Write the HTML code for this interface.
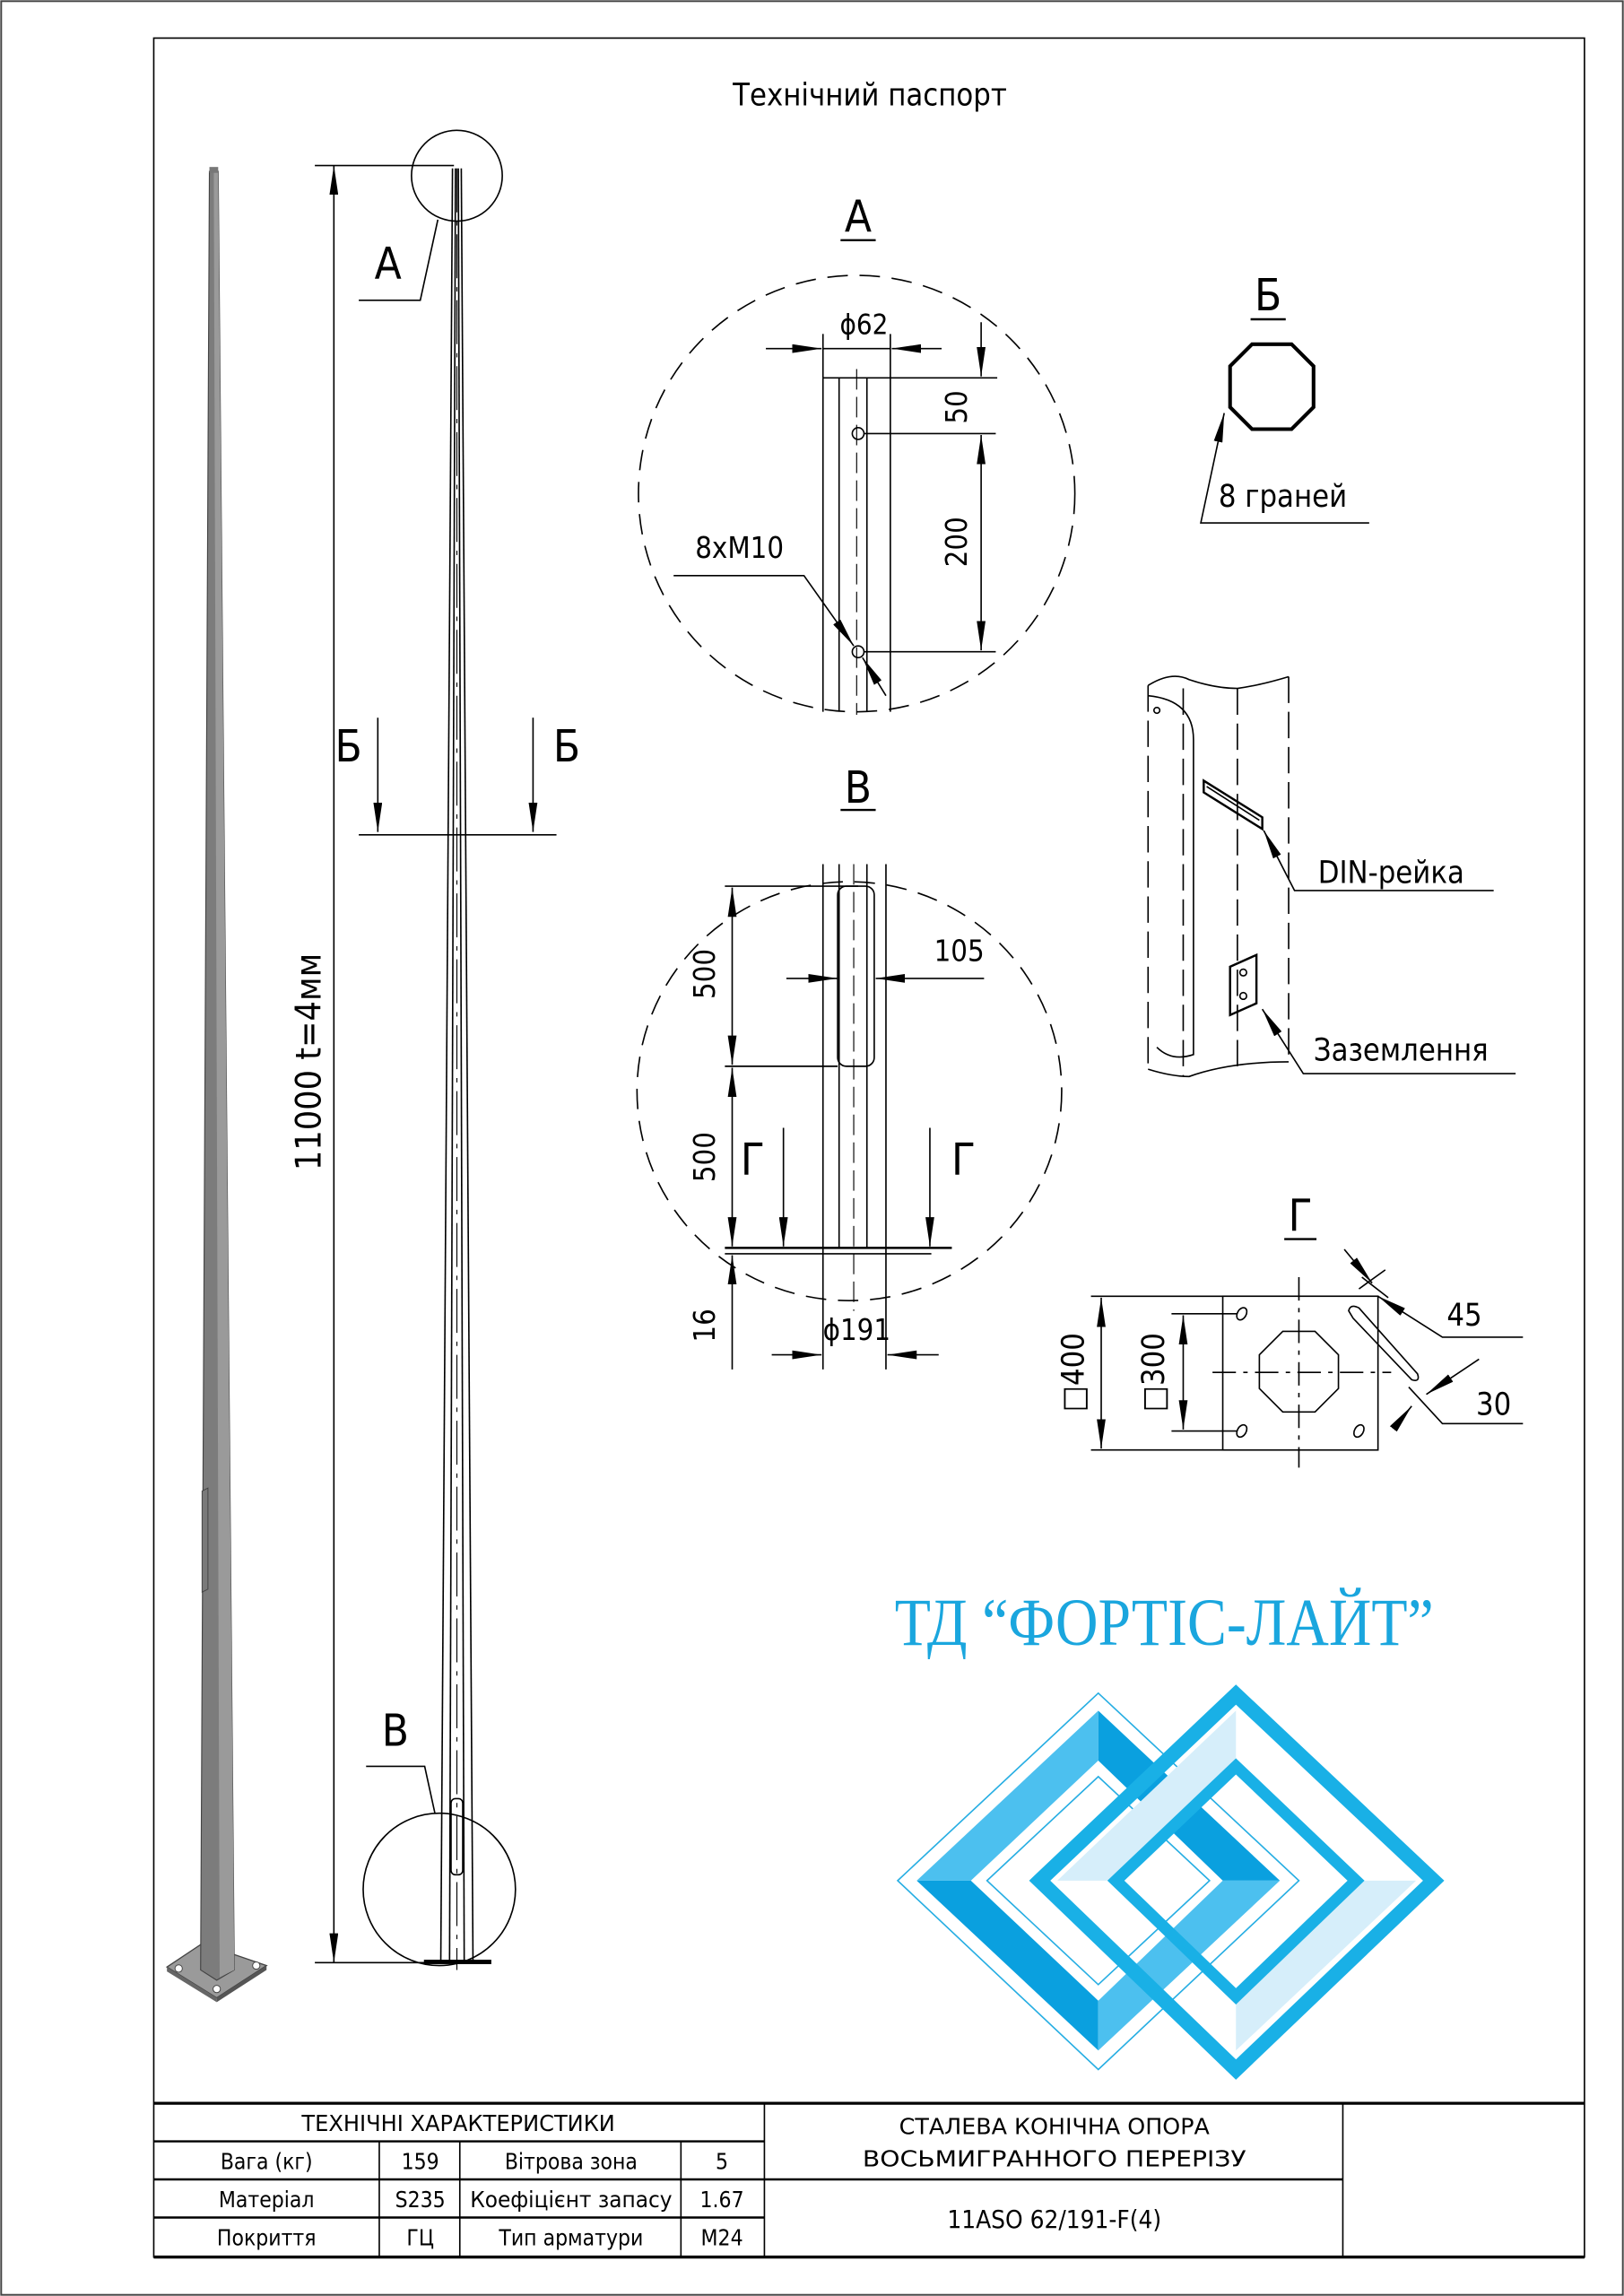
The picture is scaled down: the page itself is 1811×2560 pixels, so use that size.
<!DOCTYPE html>
<html><head><meta charset="utf-8"><style>
html,body{margin:0;padding:0;background:#fff}
svg{display:block}
text{font-family:"DejaVu Sans Condensed","DejaVu Sans","Liberation Sans",sans-serif;fill:#000}
</style></head><body>
<svg width="1811" height="2560" viewBox="0 0 1109 1567.6" preserveAspectRatio="none" xmlns="http://www.w3.org/2000/svg">
<defs>
<marker id="ar" viewBox="0 0 20 6" refX="20" refY="3" markerWidth="20" markerHeight="6" markerUnits="userSpaceOnUse" orient="auto-start-reverse"><path d="M0,0 L20,3 L0,6 z" fill="#000"/></marker>
</defs>
<rect x="0.8" y="0.8" width="1107.4" height="1566" fill="none" stroke="#444" stroke-width="1.2"/>
<rect x="105" y="26" width="977" height="1515" fill="none" stroke="#000" stroke-width="1"/>
<text x="594" y="72" font-size="21" text-anchor="middle" font-family="Liberation Sans,sans-serif">Технічний паспорт</text>

<!-- 3D pole -->
<polygon points="114,1343 138,1327 182,1342 148,1364" fill="#9a9a9a" stroke="#444" stroke-width="0.8"/>
<polygon points="114,1343 148,1364 148,1367 114,1346" fill="#666"/>
<polygon points="148,1364 182,1342 182,1345 148,1367" fill="#555"/>
<polygon points="143,117 149,117 160,1345 148,1352 137,1345" fill="#7c7c7c" stroke="#444" stroke-width="0.7"/>
<polygon points="146,117 149,117 160,1345 150,1350" fill="#9a9a9a"/>
<rect x="143" y="114" width="6" height="4" fill="#777"/>
<polygon points="138,1018 142,1016 142,1085 138,1087" fill="#7a7a7a" stroke="#444" stroke-width="0.6"/>
<circle cx="122" cy="1344" r="2.5" fill="#fff" stroke="#444" stroke-width="0.6"/>
<circle cx="175" cy="1342" r="2.5" fill="#fff" stroke="#444" stroke-width="0.6"/>
<circle cx="148" cy="1358" r="2.5" fill="#fff" stroke="#444" stroke-width="0.6"/>

<!-- main 2D pole -->
<g stroke="#000" stroke-width="1" fill="none">
<line x1="309" y1="115" x2="301" y2="1340"/>
<line x1="315" y1="115" x2="323" y2="1340"/>
<line x1="311" y1="115" x2="307" y2="1340"/>
<line x1="313" y1="115" x2="317" y2="1340"/>
<line x1="312" y1="115" x2="312" y2="1345" stroke-dasharray="30,6,3,6" stroke-width="0.7"/>
<rect x="290" y="1338.5" width="45" height="2" fill="#000"/>
<rect x="308" y="1228" width="8" height="52" rx="3"/>
<circle cx="312" cy="120" r="31"/>
<circle cx="300" cy="1290" r="52"/>
<polyline points="245,205 287,205 299,150"/>
<polyline points="250,1206 290,1206 297,1238"/>
<line x1="215" y1="113" x2="310" y2="113"/>
<line x1="215" y1="1340" x2="300" y2="1340"/>
<line x1="228" y1="113" x2="228" y2="1340" marker-start="url(#ar)" marker-end="url(#ar)"/>
<line x1="245" y1="570" x2="380" y2="570"/>
<line x1="258" y1="490" x2="258" y2="568" marker-end="url(#ar)"/>
<line x1="364" y1="490" x2="364" y2="568" marker-end="url(#ar)"/>
</g>
<text x="265" y="190" font-size="30" text-anchor="middle">А</text>
<text x="270" y="1192" font-size="30" text-anchor="middle">В</text>
<text x="238" y="520" font-size="30" text-anchor="middle">Б</text>
<text x="387" y="520" font-size="30" text-anchor="middle">Б</text>
<text transform="translate(219,725) rotate(-90)" font-size="24" text-anchor="middle">11000 t=4мм</text>

<!-- Detail A -->
<text x="586" y="158" font-size="30" text-anchor="middle">А</text>
<line x1="574" y1="164" x2="598" y2="164" stroke="#000" stroke-width="1.5"/>
<g stroke="#000" stroke-width="1" fill="none">
<circle cx="585" cy="337" r="149" stroke-dasharray="14,8"/>
<line x1="562" y1="258" x2="562" y2="486"/>
<line x1="573" y1="258" x2="573" y2="486"/>
<line x1="592" y1="258" x2="592" y2="486"/>
<line x1="608" y1="228" x2="608" y2="486"/>
<line x1="562" y1="228" x2="562" y2="258"/>
<line x1="585" y1="252" x2="585" y2="488" stroke-dasharray="14,5" stroke-width="0.7"/>
<line x1="562" y1="258" x2="681" y2="258"/>
<line x1="523" y1="238" x2="561" y2="238" marker-end="url(#ar)"/>
<line x1="643" y1="238" x2="609" y2="238" marker-end="url(#ar)"/>
<line x1="562" y1="238" x2="608" y2="238"/>
<circle cx="586" cy="296" r="4"/>
<circle cx="586" cy="445" r="4"/>
<line x1="590" y1="296" x2="680" y2="296"/>
<line x1="590" y1="445" x2="680" y2="445"/>
<line x1="670" y1="220" x2="670" y2="257" marker-end="url(#ar)"/>
<line x1="670" y1="297" x2="670" y2="444" marker-start="url(#ar)" marker-end="url(#ar)"/>
<polyline points="460,393 549,393 583,441" marker-end="url(#ar)"/>
<line x1="605" y1="475" x2="589" y2="449" marker-end="url(#ar)"/>
</g>
<text x="590" y="228" font-size="19" text-anchor="middle">ϕ62</text>
<text transform="translate(660,278) rotate(-90)" font-size="20" text-anchor="middle">50</text>
<text transform="translate(660,370) rotate(-90)" font-size="20" text-anchor="middle">200</text>
<text x="505" y="381" font-size="20" text-anchor="middle">8xM10</text>

<!-- Detail Б -->
<text x="866" y="212" font-size="30" text-anchor="middle">Б</text>
<line x1="854" y1="218" x2="878" y2="218" stroke="#000" stroke-width="1.5"/>
<polygon points="855,235 882,235 897,250 897,278 882,293 855,293 840,278 840,250" fill="none" stroke="#000" stroke-width="2.5"/>
<g stroke="#000" stroke-width="1" fill="none">
<polyline points="935,357 820,357 836,282" marker-end="url(#ar)"/>
</g>
<text x="876" y="346" font-size="21" text-anchor="middle">8 граней</text>

<!-- DIN / grounding -->
<g stroke="#000" stroke-width="1" fill="none">
<path d="M784,468 Q800,458 812,464 Q830,470 845,470 Q860,468 880,462"/>
<path d="M784,475 Q815,478 815,505 L815,720 Q800,725 790,715"/>
<path d="M784,730 Q800,735 812,735 Q840,725 880,725"/>
<line x1="784" y1="468" x2="784" y2="730" stroke-dasharray="18,6"/>
<line x1="880" y1="462" x2="880" y2="725" stroke-dasharray="18,6"/>
<line x1="808" y1="470" x2="808" y2="735" stroke-dasharray="18,6"/>
<line x1="845" y1="470" x2="845" y2="730" stroke-dasharray="18,6"/>
<circle cx="790" cy="485" r="2"/>
<polygon points="822,533 862,558 862,566 822,541" stroke-width="1.5"/>
<line x1="824" y1="537" x2="860" y2="560"/>
<polyline points="1020,608 884,608 863,567" marker-end="url(#ar)"/>
<polygon points="840,660 858,652 858,685 840,693" stroke-width="1.5"/>
<circle cx="849" cy="664" r="2.3"/>
<circle cx="849" cy="680" r="2.3"/>
<polyline points="1035,733 890,733 862,689" marker-end="url(#ar)"/>
</g>
<text x="900" y="603" font-size="21">DIN-рейка</text>
<text x="897" y="724" font-size="21">Заземлення</text>

<!-- Detail В -->
<text x="586" y="548" font-size="30" text-anchor="middle">В</text>
<line x1="574" y1="553" x2="598" y2="553" stroke="#000" stroke-width="1.5"/>
<g stroke="#000" stroke-width="1" fill="none">
<ellipse cx="580" cy="745" rx="145" ry="143" stroke-dasharray="14,8"/>
<line x1="562" y1="590" x2="562" y2="935"/>
<line x1="573" y1="590" x2="573" y2="852"/>
<line x1="592" y1="590" x2="592" y2="852"/>
<line x1="605" y1="590" x2="605" y2="935"/>
<line x1="583" y1="590" x2="583" y2="895" stroke-dasharray="14,5" stroke-width="0.7"/>
<rect x="572" y="605" width="25" height="123" rx="6"/>
<line x1="495" y1="605" x2="586" y2="605"/>
<line x1="495" y1="728" x2="572" y2="728"/>
<line x1="500" y1="606" x2="500" y2="727" marker-start="url(#ar)" marker-end="url(#ar)"/>
<line x1="500" y1="729" x2="500" y2="851" marker-start="url(#ar)" marker-end="url(#ar)"/>
<line x1="500" y1="935" x2="500" y2="857" marker-end="url(#ar)"/>
<line x1="495" y1="852" x2="650" y2="852" stroke-width="1.5"/>
<line x1="495" y1="856" x2="636" y2="856"/>
<line x1="537" y1="668" x2="572" y2="668" marker-end="url(#ar)"/>
<line x1="672" y1="668" x2="598" y2="668" marker-end="url(#ar)"/>
<line x1="535" y1="770" x2="535" y2="851" marker-end="url(#ar)"/>
<line x1="635" y1="770" x2="635" y2="851" marker-end="url(#ar)"/>
<line x1="527" y1="925" x2="561" y2="925" marker-end="url(#ar)"/>
<line x1="641" y1="925" x2="606" y2="925" marker-end="url(#ar)"/>
</g>
<text transform="translate(488,665) rotate(-90)" font-size="20" text-anchor="middle">500</text>
<text transform="translate(488,790) rotate(-90)" font-size="20" text-anchor="middle">500</text>
<text transform="translate(488,905) rotate(-90)" font-size="20" text-anchor="middle">16</text>
<text x="655" y="656" font-size="20" text-anchor="middle">105</text>
<text x="514" y="802" font-size="30" text-anchor="middle">Г</text>
<text x="658" y="802" font-size="30" text-anchor="middle">Г</text>
<text x="585" y="915" font-size="20" text-anchor="middle">ϕ191</text>

<!-- Detail Г -->
<text x="888" y="840" font-size="30" text-anchor="middle">Г</text>
<line x1="877" y1="846" x2="899" y2="846" stroke="#000" stroke-width="1.5"/>
<g stroke="#000" stroke-width="1" fill="none">
<rect x="835" y="885" width="106" height="105"/>
<line x1="745" y1="885" x2="835" y2="885"/>
<line x1="745" y1="990" x2="835" y2="990"/>
<line x1="752" y1="886" x2="752" y2="989" marker-start="url(#ar)" marker-end="url(#ar)"/>
<line x1="800" y1="897" x2="845" y2="897"/>
<line x1="800" y1="977" x2="845" y2="977"/>
<line x1="808" y1="898" x2="808" y2="976" marker-start="url(#ar)" marker-end="url(#ar)"/>
<polygon points="876,909 898,909 914,925 914,948 898,964 876,964 860,948 860,925"/>
<line x1="828" y1="937" x2="950" y2="937" stroke-dasharray="16,5,3,5"/>
<line x1="887" y1="872" x2="887" y2="1002" stroke-dasharray="16,5,3,5"/>
<ellipse cx="848" cy="897" rx="3" ry="4.5" transform="rotate(30 848 897)"/>
<ellipse cx="848" cy="977" rx="3" ry="4.5" transform="rotate(30 848 977)"/>
<ellipse cx="928" cy="977" rx="3" ry="4.5" transform="rotate(30 928 977)"/>
<path d="M921,895 Q922,890 928,893 L968,938 Q970,944 964,942 L924,900 Z"/>
<line x1="918" y1="853" x2="937" y2="876" marker-end="url(#ar)"/>
<line x1="930" y1="872" x2="948" y2="886"/>
<polyline points="1040,913 985,913 941,885" marker-end="url(#ar)"/>
<line x1="928" y1="880" x2="946" y2="867"/>
<polyline points="1040,972 985,972 962,947"/>
<line x1="1010" y1="928" x2="974" y2="952" marker-end="url(#ar)"/>
<line x1="952" y1="975" x2="964" y2="960" marker-end="url(#ar)"/>
</g>
<text transform="translate(740,937) rotate(-90)" font-size="21" text-anchor="middle">□400</text>
<text transform="translate(795,937) rotate(-90)" font-size="21" text-anchor="middle">□300</text>
<text x="988" y="905" font-size="21">45</text>
<text x="1008" y="966" font-size="21">30</text>

<!-- Logo -->
<text x="795" y="1123" font-size="46" text-anchor="middle" textLength="368" lengthAdjust="spacingAndGlyphs" style="font-family:'Liberation Serif',serif;fill:#1aa6de">ТД “ФОРТІС-ЛАЙТ”</text>
<g>
<polygon points="613,1284 750,1156 887,1284 750,1413" fill="none" stroke="#27aee3" stroke-width="1"/>
<polygon points="626,1284 750,1168 750,1202 663,1284" fill="#4cc0ef"/>
<polygon points="750,1168 874,1284 835,1284 750,1202" fill="#0aa0df"/>
<polygon points="626,1284 663,1284 750,1366 750,1400" fill="#0aa0df"/>
<polygon points="750,1400 750,1366 835,1284 874,1284" fill="#4cc0ef"/>
<polygon points="674,1284 750,1213 826,1284 750,1355" fill="none" stroke="#27aee3" stroke-width="1"/>
<polygon points="710,1284 844,1157 979,1284 844,1413" fill="none" stroke="#19b0e6" stroke-width="10"/>
<polygon points="722,1284 844,1168 844,1205 762,1284" fill="#d6eefa"/>
<polygon points="967,1284 844,1400 844,1367 925,1284" fill="#d6eefa"/>
<polygon points="762,1284 844,1206 926,1284 844,1363" fill="none" stroke="#19b0e6" stroke-width="8"/>
</g>

<!-- Table -->
<g stroke="#000" fill="none">
<line x1="105" y1="1436" x2="1082" y2="1436" stroke-width="2"/>
<line x1="105" y1="1541" x2="1082" y2="1541" stroke-width="2"/>
<line x1="105" y1="1462" x2="522" y2="1462" stroke-width="1.5"/>
<line x1="105" y1="1488" x2="917" y2="1488" stroke-width="1.5"/>
<line x1="105" y1="1514" x2="522" y2="1514" stroke-width="1.5"/>
<line x1="259" y1="1462" x2="259" y2="1541"/>
<line x1="314" y1="1462" x2="314" y2="1541"/>
<line x1="465" y1="1462" x2="465" y2="1541"/>
<line x1="522" y1="1436" x2="522" y2="1541"/>
<line x1="917" y1="1436" x2="917" y2="1541"/>
</g>
<g font-size="15" text-anchor="middle" style="font-family:'DejaVu Sans Condensed',sans-serif">
<text x="313" y="1455" textLength="214" lengthAdjust="spacingAndGlyphs">ТЕХНІЧНІ ХАРАКТЕРИСТИКИ</text>
<text x="182" y="1481">Вага (кг)</text>
<text x="287" y="1481">159</text>
<text x="390" y="1481">Вітрова зона</text>
<text x="493" y="1481">5</text>
<text x="182" y="1507">Матеріал</text>
<text x="287" y="1507">S235</text>
<text x="390" y="1507" textLength="138" lengthAdjust="spacingAndGlyphs">Коефіцієнт запасу</text>
<text x="493" y="1507">1.67</text>
<text x="182" y="1533">Покриття</text>
<text x="287" y="1533">ГЦ</text>
<text x="390" y="1533">Тип арматури</text>
<text x="493" y="1533">М24</text>
<text x="720" y="1457" textLength="212" lengthAdjust="spacingAndGlyphs">СТАЛЕВА КОНІЧНА ОПОРА</text>
<text x="720" y="1479" textLength="262" lengthAdjust="spacingAndGlyphs">ВОСЬМИГРАННОГО ПЕРЕРІЗУ</text>
<text x="720" y="1521" font-size="17">11ASO 62/191-F(4)</text>
</g>
</svg>
</body></html>
